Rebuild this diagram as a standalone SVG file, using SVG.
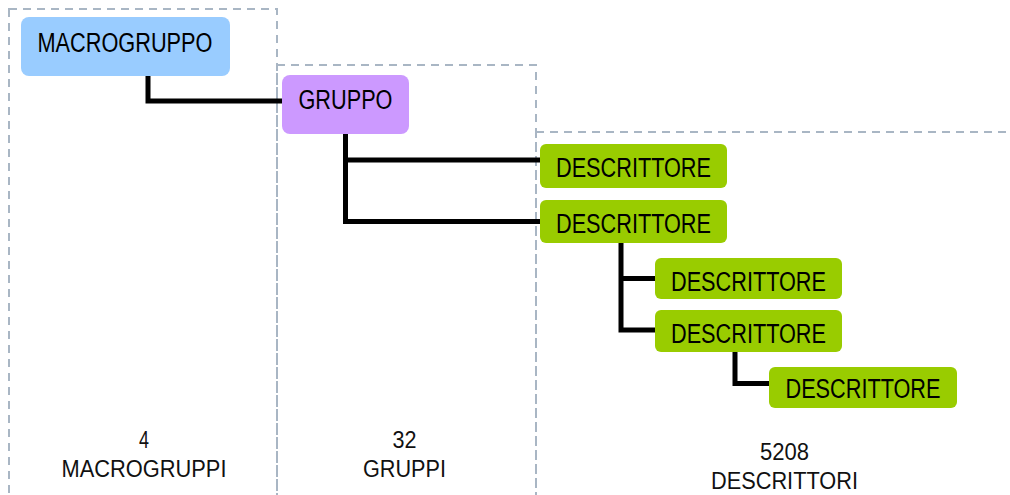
<svg xmlns="http://www.w3.org/2000/svg" width="1010" height="495" viewBox="0 0 1010 495">
<style>
.zone{fill:none;stroke:#a9b6c4;stroke-width:2;stroke-dasharray:8 6}
.conn{fill:none;stroke:#000;stroke-width:5;stroke-linejoin:miter}
.t{font-family:"Liberation Sans",Arial,sans-serif;font-size:27px;fill:#000;text-anchor:middle}
.b{font-family:"Liberation Sans",Arial,sans-serif;font-size:23px;fill:#111;text-anchor:middle}
.mg{fill:#99ccff}
.gr{fill:#cc99ff}
.de{fill:#99cc00}
</style>
<g id="zones">
<rect class="zone" x="9" y="9" width="268" height="520"/>
<rect class="zone" x="277" y="65" width="259" height="470"/>
<rect class="zone" x="536" y="132" width="520" height="400"/>
</g>
<g id="connectors">
<path class="conn" d="M148 76 V101 H282"/>
<path class="conn" d="M345.5 134 V221.5 H540 M345.5 160 H540"/>
<path class="conn" d="M621 243 V330 H655 M621 278.5 H655"/>
<path class="conn" d="M735 352 V383.5 H769"/>
</g>
<g id="macrogruppo"><rect class="mg" x="21" y="17" width="209" height="59" rx="8"/><text class="t" x="125" y="52" textLength="175" lengthAdjust="spacingAndGlyphs">MACROGRUPPO</text></g>
<g id="gruppo"><rect class="gr" x="282" y="75" width="127" height="59" rx="8"/><text class="t" x="345.5" y="109" textLength="94" lengthAdjust="spacingAndGlyphs">GRUPPO</text></g>
<g id="descrittore1"><rect class="de" x="540" y="144" width="187" height="44" rx="6"/><text class="t" x="633.5" y="177" textLength="155" lengthAdjust="spacingAndGlyphs">DESCRITTORE</text></g>
<g id="descrittore2"><rect class="de" x="540" y="200" width="187" height="43" rx="6"/><text class="t" x="633.5" y="233" textLength="155" lengthAdjust="spacingAndGlyphs">DESCRITTORE</text></g>
<g id="descrittore3"><rect class="de" x="655" y="258" width="187" height="41" rx="6"/><text class="t" x="748.5" y="291" textLength="155" lengthAdjust="spacingAndGlyphs">DESCRITTORE</text></g>
<g id="descrittore4"><rect class="de" x="655" y="310" width="187" height="42" rx="6"/><text class="t" x="748.5" y="343" textLength="155" lengthAdjust="spacingAndGlyphs">DESCRITTORE</text></g>
<g id="descrittore5"><rect class="de" x="769" y="367" width="188" height="41" rx="6"/><text class="t" x="863" y="398" textLength="155" lengthAdjust="spacingAndGlyphs">DESCRITTORE</text></g>
<g id="labels">
<text class="b" x="144" y="448" textLength="10" lengthAdjust="spacingAndGlyphs">4</text>
<text class="b" x="144" y="477" textLength="165" lengthAdjust="spacingAndGlyphs">MACROGRUPPI</text>
<text class="b" x="404.5" y="448" textLength="24" lengthAdjust="spacingAndGlyphs">32</text>
<text class="b" x="404.5" y="477" textLength="83" lengthAdjust="spacingAndGlyphs">GRUPPI</text>
<text class="b" x="784.5" y="460" textLength="49" lengthAdjust="spacingAndGlyphs">5208</text>
<text class="b" x="784.5" y="489" textLength="147" lengthAdjust="spacingAndGlyphs">DESCRITTORI</text>
</g>
</svg>
